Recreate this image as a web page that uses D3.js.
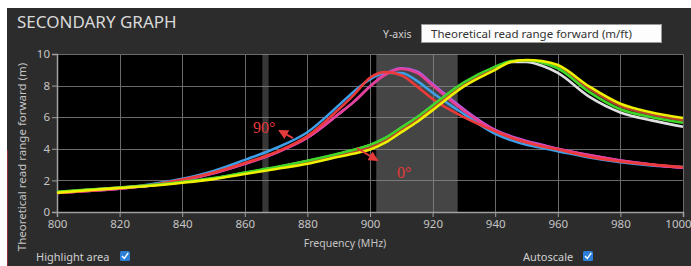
<!DOCTYPE html>
<html>
<head>
  <meta charset="utf-8">
  <script src="https://d3js.org/d3.v7.min.js"></script>
  <style>
    body { margin: 0; background: #fff; }
    text { font-family: "Noto Sans", "Open Sans", sans-serif; }
  </style>
</head>
<body>
  <script type="text/javascript">
    // frequency points (MHz)
    var freqs = [800, 810, 820, 830, 840, 850, 860, 870, 880, 890, 895, 900, 905, 910, 915, 920, 930, 940, 945, 950, 955, 960, 970, 980, 990, 1000];

    // 90 degree group
    var blueA   = [1.25, 1.38, 1.52, 1.75, 2.10, 2.60, 3.30, 4.05, 5.05, 6.75, 7.65, 8.40, 8.80, 8.80, 8.30, 7.55, 6.20, 4.95, 4.55, 4.25, 4.05, 3.85, 3.45, 3.15, 2.95, 2.85];
    var purpleA = [1.20, 1.33, 1.48, 1.68, 2.00, 2.45, 3.05, 3.75, 4.70, 6.20, 7.00, 7.95, 8.75, 9.10, 8.90, 8.10, 6.50, 5.20, 4.80, 4.50, 4.25, 4.00, 3.60, 3.25, 3.00, 2.80];
    var pinkA   = [1.20, 1.33, 1.48, 1.68, 2.00, 2.45, 3.05, 3.75, 4.70, 6.20, 7.00, 7.95, 8.70, 9.05, 8.80, 8.00, 6.40, 5.15, 4.75, 4.45, 4.20, 4.00, 3.60, 3.25, 3.00, 2.80];
    var redA    = [1.20, 1.35, 1.50, 1.70, 2.05, 2.50, 3.10, 3.80, 4.80, 6.50, 7.45, 8.50, 8.85, 8.65, 7.95, 7.15, 6.00, 5.10, 4.70, 4.40, 4.15, 3.95, 3.50, 3.20, 3.00, 2.85];

    // 0 degree group
    var whiteB  = [1.25, 1.40, 1.53, 1.68, 1.88, 2.12, 2.47, 2.82, 3.22, 3.67, 3.92, 4.22, 4.67, 5.32, 5.97, 6.72, 8.15, 9.15, 9.50, 9.50, 9.25, 8.80, 7.30, 6.30, 5.80, 5.40];
    var redB    = [1.26, 1.40, 1.54, 1.69, 1.88, 2.12, 2.46, 2.80, 3.18, 3.62, 3.85, 4.12, 4.58, 5.22, 5.87, 6.62, 8.10, 9.12, 9.52, 9.60, 9.50, 9.20, 7.80, 6.70, 6.15, 5.80];
    var greenB  = [1.28, 1.42, 1.55, 1.70, 1.90, 2.15, 2.50, 2.85, 3.25, 3.70, 3.95, 4.25, 4.70, 5.35, 6.00, 6.75, 8.20, 9.20, 9.55, 9.60, 9.45, 9.10, 7.60, 6.50, 6.00, 5.65];
    var yellowB = [1.22, 1.38, 1.52, 1.66, 1.85, 2.08, 2.40, 2.72, 3.05, 3.50, 3.70, 3.95, 4.40, 5.05, 5.70, 6.45, 7.95, 9.00, 9.50, 9.62, 9.55, 9.30, 7.95, 6.85, 6.30, 5.95];

    var seriesList = [
      { name: "blueA",   values: blueA,   color: "#3d9fe8" },
      { name: "purpleA", values: purpleA, color: "#b45be0" },
      { name: "pinkA",   values: pinkA,   color: "#e63f96" },
      { name: "redA",    values: redA,    color: "#ec3a3a" },
      { name: "whiteB",  values: whiteB,  color: "#e0e0e0" },
      { name: "redB",    values: redB,    color: "#b8402e" },
      { name: "greenB",  values: greenB,  color: "#3fd62a" },
      { name: "yellowB", values: yellowB, color: "#eef000" }
    ];

    var xTicks = [800, 820, 840, 860, 880, 900, 920, 940, 960, 980, 1000];
    var yTicks = [0, 2, 4, 6, 8, 10];

    // highlighted bands (MHz)
    var etsiBand = [865.6, 867.6];
    var fccBand = [902, 928];

    // annotations: [label, textFreq, textVal, arrowFromFreq, arrowFromVal, arrowToFreq, arrowToVal]
    var notes = [
      ["90°", 862.6, 5.0, 875.4, 4.68, 871.2, 5.13],
      ["0°", 908.6, 2.15, 895.8, 4.05, 902.2, 3.29]
    ];

    var W = 691, H = 266;
    var svg = d3.select("body").append("svg")
      .attr("width", W)
      .attr("height", H);

    // panel
    svg.append("rect")
      .attr("x", 7).attr("y", 8)
      .attr("width", W - 7).attr("height", H - 8)
      .attr("fill", "#2c2c2c");
    svg.append("line")
      .attr("x1", 7.5).attr("x2", 7.5).attr("y1", 150).attr("y2", H)
      .attr("stroke", "#8a2f33").attr("stroke-width", 1);

    svg.append("text")
      .attr("x", 17).attr("y", 28)
      .attr("fill", "#d9d9d9")
      .style("font-size", "17px")
      .text("SECONDARY GRAPH");

    svg.append("text")
      .attr("x", 383).attr("y", 38)
      .attr("fill", "#cfcfcf")
      .style("font-size", "10.5px")
      .text("Y-axis");
    svg.append("rect")
      .attr("x", 421.5).attr("y", 24.5)
      .attr("width", 240).attr("height", 18)
      .attr("fill", "#fdfdfd").attr("stroke", "#999");
    svg.append("text")
      .attr("x", 431).attr("y", 38)
      .attr("fill", "#333")
      .style("font-size", "11.5px")
      .text("Theoretical read range forward (m/ft)");

    var x = d3.scaleLinear().domain([800, 1000]).range([57, 683]);
    var y = d3.scaleLinear().domain([0, 10]).range([212, 54]);

    // plot background
    svg.append("rect")
      .attr("x", x(800)).attr("y", y(10))
      .attr("width", x(1000) - x(800)).attr("height", y(0) - y(10))
      .attr("fill", "#000");

    // grid
    var grid = svg.append("g").attr("stroke", "#6a6a6a").attr("stroke-width", 1);
    grid.selectAll(".gx").data(xTicks.slice(1)).enter().append("line")
      .attr("x1", d => Math.round(x(d)) + 0.5).attr("x2", d => Math.round(x(d)) + 0.5)
      .attr("y1", y(10)).attr("y2", y(0));
    grid.selectAll(".gy").data(yTicks.slice(1)).enter().append("line")
      .attr("x1", x(800)).attr("x2", x(1000))
      .attr("y1", d => Math.round(y(d)) + 0.5).attr("y2", d => Math.round(y(d)) + 0.5);

    // highlight bands
    svg.append("rect")
      .attr("x", x(fccBand[0])).attr("y", y(10))
      .attr("width", x(fccBand[1]) - x(fccBand[0])).attr("height", y(0) - y(10))
      .attr("fill", "#8a8a8a").attr("opacity", 0.5);
    svg.append("rect")
      .attr("x", x(etsiBand[0])).attr("y", y(10))
      .attr("width", x(etsiBand[1]) - x(etsiBand[0])).attr("height", y(0) - y(10))
      .attr("fill", "#8a8a8a").attr("opacity", 0.4);

    // axes
    var xAxis = svg.append("g")
      .attr("transform", "translate(0," + y(0) + ")")
      .call(d3.axisBottom(x).tickValues(xTicks).tickFormat(d3.format("d")).tickSize(5).tickPadding(3));
    var yAxis = svg.append("g")
      .attr("transform", "translate(" + x(800) + ",0)")
      .call(d3.axisLeft(y).tickValues(yTicks).tickSize(5).tickPadding(2));
    [xAxis, yAxis].forEach(function (a) {
      a.select(".domain").attr("stroke", "#a0a0a0").attr("stroke-width", 1.5);
      a.selectAll(".tick line").attr("stroke", "#a0a0a0");
      a.selectAll(".tick text")
        .attr("fill", "#c4c4c4")
        .style("font-size", "11.5px")
        .style("font-family", "'Noto Sans', sans-serif");
    });
    // keep the last label inside the panel
    xAxis.selectAll(".tick text").filter(d => d === 1000).attr("dx", -5);

    svg.append("text")
      .attr("x", 345).attr("y", 247)
      .attr("text-anchor", "middle")
      .attr("fill", "#c4c4c4")
      .style("font-size", "10.5px")
      .text("Frequency (MHz)");
    svg.append("text")
      .attr("transform", "translate(26,157) rotate(-90)")
      .attr("text-anchor", "middle")
      .attr("fill", "#c4c4c4")
      .style("font-size", "11.5px")
      .text("Theoretical read range forward (m)");

    // curves
    var line = d3.line()
      .x(function (d, i) { return x(freqs[i]); })
      .y(function (d) { return y(d); })
      .curve(d3.curveMonotoneX);

    svg.append("g").selectAll("path").data(seriesList).enter().append("path")
      .attr("d", d => line(d.values))
      .attr("fill", "none")
      .attr("stroke", d => d.color)
      .attr("stroke-width", 2.6)
      .attr("stroke-linejoin", "round");

    // annotations
    svg.append("defs").append("marker")
      .attr("id", "arr")
      .attr("viewBox", "0 0 10 10")
      .attr("refX", 8).attr("refY", 5)
      .attr("markerWidth", 5).attr("markerHeight", 5)
      .attr("orient", "auto")
      .append("path").attr("d", "M0,0L10,5L0,10z").attr("fill", "#e53a3a");

    notes.forEach(function (n) {
      svg.append("text")
        .attr("x", x(n[1])).attr("y", y(n[2]))
        .attr("fill", "#e53a3a")
        .style("font-family", "'Liberation Serif', serif")
        .style("font-size", "16px")
        .text(n[0]);
      svg.append("line")
        .attr("x1", x(n[3])).attr("y1", y(n[4]))
        .attr("x2", x(n[5])).attr("y2", y(n[6]))
        .attr("stroke", "#e53a3a").attr("stroke-width", 2)
        .attr("marker-end", "url(#arr)");
    });

    // checkboxes
    function checkbox(label, lx, bx) {
      svg.append("text")
        .attr("x", lx).attr("y", 261)
        .attr("fill", "#cfcfcf")
        .style("font-size", "11px")
        .text(label);
      svg.append("rect")
        .attr("x", bx).attr("y", 251)
        .attr("width", 10).attr("height", 10)
        .attr("rx", 1.5)
        .attr("fill", "#2b7fd6");
      svg.append("path")
        .attr("d", "M" + (bx + 2) + ",256 L" + (bx + 4.3) + ",258.5 L" + (bx + 8.2) + ",253")
        .attr("fill", "none").attr("stroke", "#fff").attr("stroke-width", 1.4);
    }
    checkbox("Highlight area", 36, 120);
    checkbox("Autoscale", 523, 583);
  </script>
</body>
</html>
